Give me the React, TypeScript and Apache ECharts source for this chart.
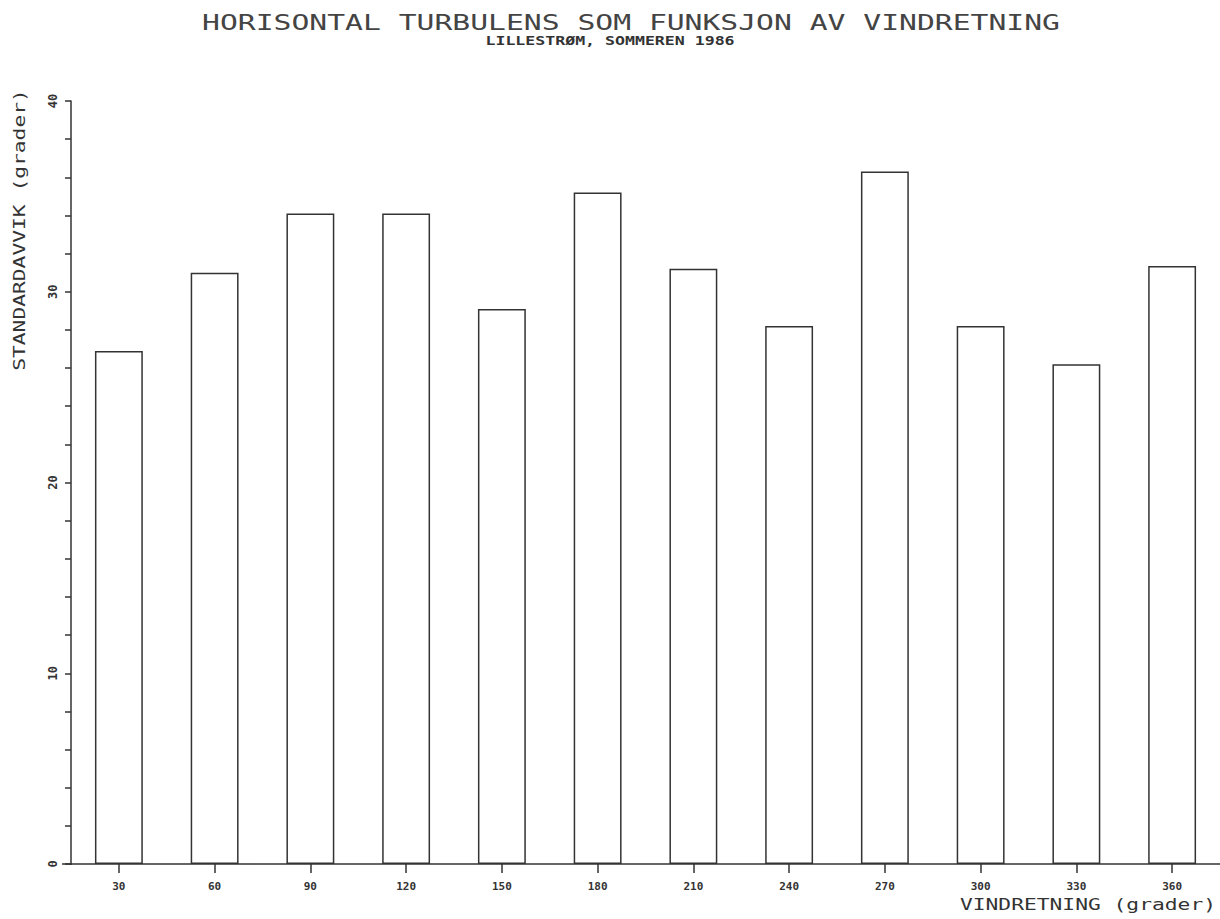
import React, { useEffect, useRef } from "react";
import * as echarts from "echarts";

const categories = ["30", "60", "90", "120", "150", "180", "210", "240", "270", "300", "330", "360"];
const stdDev = [26.9, 31.0, 34.1, 34.1, 29.1, 35.2, 31.2, 28.2, 36.3, 28.2, 26.2, 31.35];
const titleText = "HORISONTAL TURBULENS SOM FUNKSJON AV VINDRETNING";
const subtitleText = "LILLESTRØM, SOMMEREN 1986";
const xName = "VINDRETNING (grader)";
const yName = "STANDARDAVVIK (grader)";

const INK = "#333";
const MONO = "'DejaVu Sans Mono', monospace";

export default function App() {
  const ref = useRef<HTMLDivElement>(null);
  useEffect(() => {
    if (!ref.current) return;
    const chart = echarts.init(ref.current, undefined, { renderer: "svg" });
    chart.setOption({
      animation: false,
      backgroundColor: "#fff",
      grid: { left: 71, top: 101, width: 1153, height: 763, containLabel: false },
      xAxis: {
        type: "category",
        data: categories,
        boundaryGap: true,
        axisLine: { show: true, lineStyle: { color: INK, width: 1.5 } },
        axisTick: { show: true, alignWithLabel: true, length: 9, lineStyle: { color: INK, width: 1.5 } },
        axisLabel: { color: INK, fontFamily: MONO, fontWeight: "bold", fontSize: 11, margin: 17 },
        splitLine: { show: false },
      },
      yAxis: {
        type: "value",
        min: 0,
        max: 40,
        interval: 10,
        axisLine: { show: true, lineStyle: { color: INK, width: 1.5 } },
        axisTick: { show: true, length: 6, lineStyle: { color: INK, width: 1.5 } },
        minorTick: { show: true, splitNumber: 5, length: 6, lineStyle: { color: INK, width: 1.5 } },
        axisLabel: { color: INK, fontFamily: MONO, fontWeight: "bold", fontSize: 12, rotate: 90, margin: 12 },
        splitLine: { show: false },
      },
      series: [
        {
          type: "bar",
          data: stdDev,
          barWidth: "50%",
          itemStyle: { color: "#fff", borderColor: INK, borderWidth: 1.5 },
        },
      ],
      graphic: [
        {
          type: "line",
          shape: { x1: 62, y1: 864, x2: 72, y2: 864 },
          style: { stroke: INK, lineWidth: 1.5 },
        },
        {
          type: "text",
          x: 631,
          y: 22,
          scaleX: 1.35,
          style: { text: titleText, font: `22px ${MONO}`, fill: "#444", textAlign: "center", textVerticalAlign: "middle" },
        },
        {
          type: "text",
          x: 610,
          y: 41,
          scaleX: 1.38,
          style: { text: subtitleText, font: `bold 12px ${MONO}`, fill: INK, textAlign: "center", textVerticalAlign: "middle" },
        },
        {
          type: "text",
          x: 1216,
          y: 904,
          scaleX: 1.33,
          style: { text: xName, font: `16px ${MONO}`, fill: INK, textAlign: "right", textVerticalAlign: "middle" },
        },
        {
          type: "text",
          x: 19,
          y: 230,
          rotation: Math.PI / 2,
          scaleX: 1.33,
          style: { text: yName, font: `16px ${MONO}`, fill: INK, textAlign: "center", textVerticalAlign: "middle" },
        },
      ],
    });
    return () => chart.dispose();
  }, []);
  return <div ref={ref} style={{ position: "absolute", left: 0, top: 0, width: 1220, height: 919 }} />;
}
